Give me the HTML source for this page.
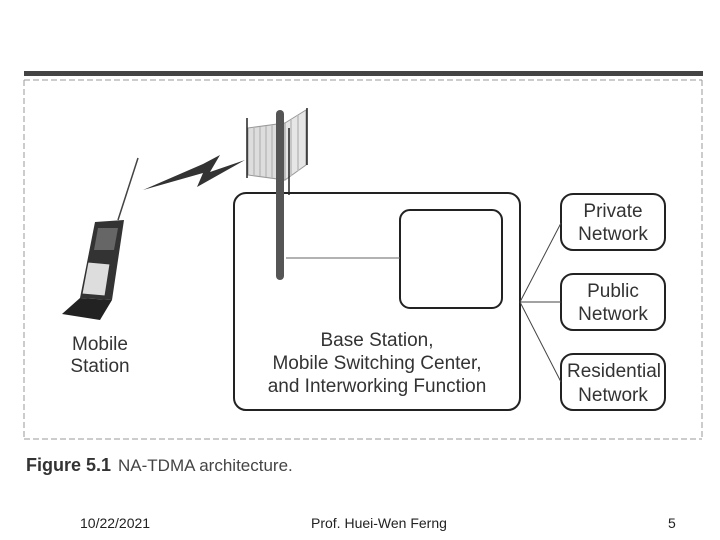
<!DOCTYPE html>
<html><head><style>
html,body{margin:0;padding:0;background:#fff;}
svg{display:block;}
text{font-family:"Liberation Sans",sans-serif;}
</style></head><body>
<svg width="720" height="540" viewBox="0 0 720 540" xmlns="http://www.w3.org/2000/svg">
<rect x="24" y="71" width="679" height="5" fill="#444"/>
<g stroke="#999" stroke-width="1" stroke-dasharray="6,3" fill="none">
<line x1="24" y1="80" x2="702" y2="80"/>
<line x1="24" y1="80" x2="24" y2="439"/>
<line x1="702" y1="80" x2="702" y2="439"/>
<line x1="24" y1="439" x2="702" y2="439"/>
</g>
<rect x="234" y="193" width="286" height="217" rx="12" fill="none" stroke="#222" stroke-width="2"/>
<rect x="400" y="210" width="102" height="98" rx="10" fill="none" stroke="#222" stroke-width="2"/>
<line x1="286" y1="258" x2="400" y2="258" stroke="#666" stroke-width="1"/>
<polygon points="248,128 285,123 285,180 248,175" fill="#ddd" stroke="#999"/>
<polygon points="285,123 306,110 306,165 285,180" fill="#e6e6e6" stroke="#999"/>
<g stroke="#bbb" stroke-width="1.5">
<line x1="254" y1="128" x2="254" y2="175"/><line x1="260" y1="127" x2="260" y2="176"/><line x1="266" y1="126" x2="266" y2="177"/><line x1="272" y1="125" x2="272" y2="178"/><line x1="291" y1="120" x2="291" y2="176"/><line x1="298" y1="115" x2="298" y2="171"/>
</g>
<rect x="276" y="110" width="8" height="170" rx="4" fill="#555"/>
<line x1="247" y1="118" x2="247" y2="178" stroke="#222" stroke-width="1.5"/>
<line x1="307" y1="108" x2="307" y2="165" stroke="#222" stroke-width="1.5"/>
<line x1="289" y1="128" x2="289" y2="195" stroke="#222" stroke-width="1.5"/>
<polygon points="143,190 203,164 220,155 210,172 245,160 197,187 203,173" fill="#333"/>
<line x1="118" y1="220" x2="138" y2="158" stroke="#444" stroke-width="1.5"/>
<polygon points="95,222 124,220 112,300 80,298" fill="#333"/>
<polygon points="98,228 118,228 114,250 94,250" fill="#666"/>
<polygon points="88,262 110,264 105,296 82,294" fill="#ddd" stroke="#333"/>
<polygon points="80,298 112,300 100,320 62,314" fill="#222"/>
<text x="100" y="350" font-size="19" fill="#333" text-anchor="middle">Mobile</text>
<text x="100" y="372" font-size="19" fill="#333" text-anchor="middle">Station</text>
<text x="377" y="346" font-size="19" fill="#333" text-anchor="middle">Base Station,</text>
<text x="377" y="369" font-size="19" fill="#333" text-anchor="middle">Mobile Switching Center,</text>
<text x="377" y="392" font-size="19" fill="#333" text-anchor="middle">and Interworking Function</text>
<g fill="none" stroke="#222" stroke-width="2">
<rect x="561" y="194" width="104" height="56" rx="12"/>
<rect x="561" y="274" width="104" height="56" rx="12"/>
<rect x="561" y="354" width="104" height="56" rx="12"/>
</g>
<g stroke="#444" stroke-width="1">
<line x1="520" y1="302" x2="561" y2="223"/>
<line x1="520" y1="302" x2="561" y2="302"/>
<line x1="520" y1="302" x2="561" y2="382"/>
</g>
<g font-size="19" fill="#333" text-anchor="middle">
<text x="613" y="217">Private</text><text x="613" y="240">Network</text>
<text x="613" y="297">Public</text><text x="613" y="320">Network</text>
<text x="614" y="377">Residential</text><text x="613" y="401">Network</text>
</g>
<text x="26" y="471" font-size="18" font-weight="bold" fill="#333">Figure 5.1</text>
<text x="118" y="471" font-size="17" fill="#444">NA-TDMA architecture.</text>
<text x="80" y="528" font-size="14" fill="#222">10/22/2021</text>
<text x="311" y="528" font-size="14" fill="#222">Prof. Huei-Wen Ferng</text>
<text x="668" y="528" font-size="14" fill="#222">5</text>
</svg>
</body></html>
